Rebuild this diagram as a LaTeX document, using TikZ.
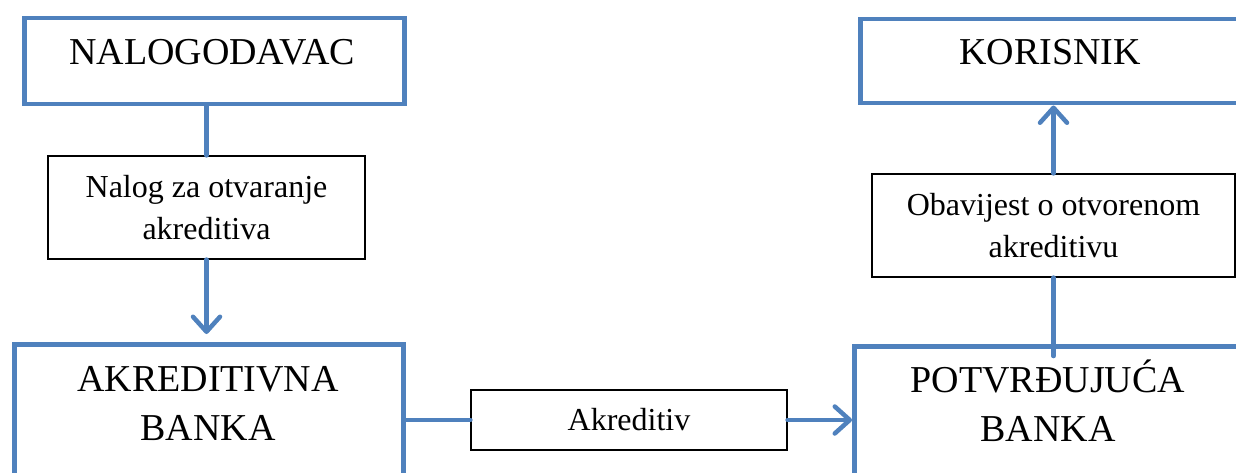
\documentclass[tikz,border=0pt]{standalone}
\usepackage{fontspec}
\setmainfont{Liberation Serif}
\usetikzlibrary{arrows.meta,positioning}
\definecolor{flowblue}{RGB}{79,129,189}

\begin{document}
\begin{tikzpicture}[
    x=1pt, y=-1pt,
    line width=4.5pt,
    every node/.style={text=black},
    party/.style={draw=flowblue, fill=white, rectangle, inner sep=0pt},
    partytext/.style={font=\fontsize{38}{49}\selectfont, align=center, inner sep=0pt},
    doc/.style={draw=black, line width=1.2pt, fill=white, inner sep=0pt,
                font=\fontsize{32}{42}\selectfont, align=center},
    flow/.style={draw=flowblue, line cap=round},
    flowarrow/.style={flow, -{Straight Barb[length=15pt, width=27pt, round]}}
  ]
  \useasboundingbox (0,0) rectangle (1236,473);

  %--------------------------------------
  % 1) The four parties (blue frames)
  %--------------------------------------
  \node[party, minimum width=380pt, minimum height=86pt, anchor=north west] (nal) at (22,16) {};
  \node[partytext] (naltxt) at (212,52) {NALOGODAVAC};

  \node[party, minimum width=420pt, minimum height=84pt, anchor=north west] (kor) at (858,17) {};
  \node[partytext] (kortxt) at (1050,52) {KORISNIK};

  \node[party, minimum width=389pt, minimum height=200pt, anchor=north west] (akr) at (12,342) {};
  \node[partytext] (akrtxt) at (208,404) {AKREDITIVNA\\BANKA};

  \node[party, minimum width=420pt, minimum height=200pt, anchor=north west] (potv) at (852,344) {};
  \node[partytext] (potvtxt) at (1048,401) {POTVRĐUJUĆA\\BANKA};

  %--------------------------------------
  % 2) Documents passed between them
  %--------------------------------------
  \node[doc, minimum width=317pt, minimum height=103pt] (nalog) at (206.5,207.5) {Nalog za otvaranje\\akreditiva};
  \node[doc, minimum width=363pt, minimum height=103pt] (obav) at (1053.5,225.5) {Obavijest o otvorenom\\akreditivu};
  \node[doc, minimum width=316pt, minimum height=60pt] (akrdoc) at (629,420) {Akreditiv};

  %--------------------------------------
  % 3) Flow lines
  %--------------------------------------
  % nalogodavac -> akreditivna banka
  \draw[flow] (nal.south -| nalog.north) -- (nalog.north);
  \draw[flowarrow, shorten >=8pt] (nalog.south) -- (nalog.south |- akr.north);
  % akreditivna banka -> potvrdujuca banka
  \draw[flow] (akr.east |- akrdoc.west) -- (akrdoc.west);
  \draw[flowarrow] (akrdoc.east) -- (akrdoc.east -| potv.west);
  % potvrdujuca banka -> korisnik
  \coordinate (potvin) at ([yshift=-12pt]obav.south |- potv.north);
  \draw[flow] (potvin) -- (obav.south);
  \draw[flowarrow] (obav.north) -- (obav.north |- kor.south);

\end{tikzpicture}
\end{document}
